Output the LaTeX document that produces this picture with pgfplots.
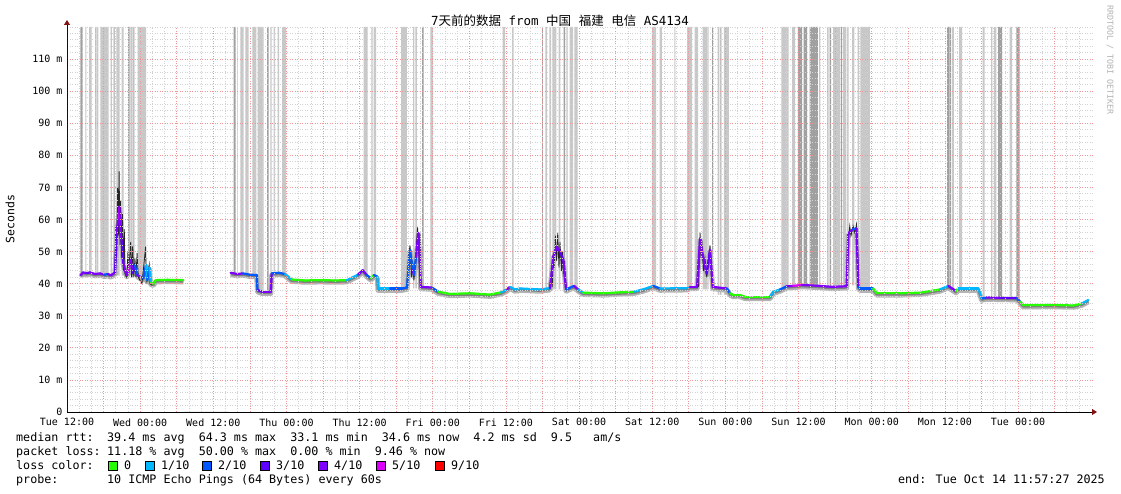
\documentclass[border=0pt]{standalone}
\usepackage{fontspec}
\setmainfont{DejaVu Sans Mono}
\newfontfamily\cjk{Noto Sans CJK SC}
\usepackage{pgfplots}
\usepackage{pgfplotstable}
\pgfplotsset{compat=1.18}
\usetikzlibrary{arrows.meta}

\definecolor{mgrid}{RGB}{240,150,150}
\definecolor{sgrid}{RGB}{210,210,210}
\definecolor{barlight}{RGB}{200,200,200}
\definecolor{bardark}{RGB}{160,160,160}
\definecolor{arrowred}{RGB}{130,20,20}
\definecolor{lc0}{RGB}{38,255,0}
\definecolor{lc1}{RGB}{0,184,255}
\definecolor{lc2}{RGB}{0,89,255}
\definecolor{lc3}{RGB}{94,0,255}
\definecolor{lc4}{RGB}{126,0,255}
\definecolor{lc5}{RGB}{221,0,255}
\definecolor{lc9}{RGB}{255,0,0}

\pgfplotsset{colormap={loss}{rgb255=(38,255,0) rgb255=(0,184,255) rgb255=(0,89,255) rgb255=(94,0,255) rgb255=(126,0,255) rgb255=(221,0,255) rgb255=(255,0,0)}}

% median rtt, hours since Tue 12:00; c = loss colour index
\pgfplotstableread{
h ms c
2.25 42.7 4
2.62 43.5 4
3.20 43.3 3
3.77 43.5 4
4.60 43.0 4
5.41 43.2 4
6.10 42.8 2
6.73 43.0 4
7.20 42.6 4
7.87 43.5 3
8.15 55.7 4
8.42 60.4 5
8.58 64.0 4
8.69 58.9 4
8.97 53.0 3
9.24 46.4 4
9.51 44.2 4
9.79 42.7 4
10.06 43.8 5
10.45 47.4 4
10.78 43.4 3
11.15 45.8 2
11.53 42.7 4
11.98 42.2 2
12.52 41.7 2
12.96 45.8 1
13.17 41.1 2
13.50 45.1 1
13.73 40.3 0
14.16 40.0 0
14.55 41.1 0
16.50 41.2 0
19.08 41.1 0
}\medA

\pgfplotstableread{
h ms c
26.85 43.4 4
27.90 43.0 4
28.87 43.2 2
30.00 42.8 2
31.12 42.7 2
31.25 38.0 3
32.00 37.5 4
33.42 37.5 4
33.58 43.2 2
34.80 43.4 2
35.76 43.0 1
36.86 41.3 0
39.00 41.0 0
41.50 41.1 0
44.00 41.0 0
45.88 41.1 1
47.74 42.8 4
48.51 44.2 4
49.16 42.7 2
49.82 41.7 0
50.36 42.7 2
50.90 42.2 1
51.02 38.5 1
52.99 38.5 2
55.00 38.5 2
55.77 38.8 2
56.27 50.5 2
56.71 44.2 4
56.92 42.7 2
57.25 48.3 4
57.63 55.7 4
57.79 51.0 4
58.02 39.0 4
59.83 38.8 2
60.91 37.5 0
62.83 36.8 0
66.11 37.0 0
69.39 36.6 0
71.20 37.3 1
72.13 38.2 4
72.67 39.0 1
73.49 38.2 1
74.31 38.5 1
77.59 38.2 1
79.23 38.6 4
79.77 48.4 4
80.33 51.5 4
80.87 50.0 3
81.41 47.4 4
81.86 38.2 2
83.17 39.3 4
83.87 38.2 1
84.65 37.2 0
88.00 37.0 0
90.72 37.3 0
93.00 37.5 1
94.49 38.2 1
96.18 39.3 2
97.28 38.5 1
101.71 38.6 1
102.20 39.0 4
103.35 39.0 4
103.84 54.0 4
104.12 50.5 4
104.66 45.3 4
104.94 43.2 3
105.48 50.5 4
105.76 43.2 4
105.92 39.0 4
108.27 38.5 2
108.76 37.0 0
109.25 36.5 0
110.40 36.5 0
111.22 35.9 0
115.32 35.9 1
115.86 37.5 1
116.96 38.2 2
118.06 39.2 4
119.09 39.3 5
120.52 39.6 4
123.52 39.3 4
125.50 39.0 4
127.90 39.2 4
128.17 55.7 4
128.94 57.0 2
129.50 57.2 4
129.81 39.0 2
130.09 38.5 2
132.22 38.5 0
132.83 37.0 0
136.65 37.0 0
140.00 37.2 0
143.21 38.2 1
144.57 39.3 4
145.83 37.7 0
146.21 38.5 1
149.49 38.5 1
150.05 35.4 2
150.87 35.7 4
153.05 35.6 3
155.79 35.5 2
156.33 34.4 0
156.87 33.3 0
161.25 33.4 0
165.07 33.2 0
166.45 33.8 1
167.54 34.9 1
}\medB

% lower edge of the loss bars
\pgfplotstableread{
h b
0 42.5
13.6 40
19.1 0
26.5 42.5
31.15 37.5
33.5 42.5
36 41
46 42
51 38.5
60 37
72 38.2
82 38.5
84 37
94 38.2
106 36.5
111 36
116 38.8
128 39.5
129.8 38.3
132.5 37
143 38.3
149.7 35.3
156.2 33.2
168.3 33.2
}\base

\begin{document}
\begin{tikzpicture}
\useasboundingbox (0,0) rectangle (1121pt,494pt);
\begin{axis}[
  at={(67pt,82pt)}, anchor=south west,
  scale only axis, width=1026pt, height=385pt,
  xmin=0, xmax=168.3, ymin=0, ymax=120,
  axis lines=left, axis on top,
  x axis line style={black, line width=0.8pt, -{Triangle[length=5pt,width=6pt,color=arrowred]}, shorten >=-4pt},
  y axis line style={black!70!arrowred, line width=0.8pt, -{Triangle[length=5pt,width=6pt,color=arrowred]}, shorten >=-7pt},
  xtick={0,6,...,162},
  xticklabels={Tue 12:00,,Wed 00:00,,Wed 12:00,,Thu 00:00,,Thu 12:00,,Fri 00:00,,Fri 12:00,,Sat 00:00,,Sat 12:00,,Sun 00:00,,Sun 12:00,,Mon 00:00,,Mon 12:00,,Tue 00:00,},
  minor xtick={0,2,...,166},
  ytick={0,10,...,110},
  yticklabels={0,10 m,20 m,30 m,40 m,50 m,60 m,70 m,80 m,90 m,100 m,110 m},
  minor ytick={0,2,...,120},
  major tick length=0pt, minor tick length=0pt,
  grid=both,
  major grid style={mgrid, line width=0.7pt, dash pattern=on 1pt off 1.5pt},
  minor grid style={sgrid, line width=0.7pt, dash pattern=on 1pt off 1.5pt},
  tick label style={font=\fontsize{10}{12}\selectfont},
  xticklabel style={yshift=-3pt},
  yticklabel style={xshift=-1pt},
]
% loss bars
\addplot[const plot, fill=barlight, draw=none] coordinates {
(3.00,120) (3.17,0) (3.61,120) (4.05,0) (4.92,120) (5.13,0) (5.46,120) (6.84,0)
(7.17,120) (7.38,0) (8.09,120) (8.65,0) (8.97,120) (9.30,0) (10.38,120) (10.78,0)
(11.60,120) (12.96,0) (27.89,120) (28.00,0) (28.43,120) (28.99,0) (29.25,120) (29.81,0)
(30.40,120) (31.05,0) (31.28,120) (32.27,0) (33.35,120) (33.58,0) (33.91,120) (34.12,0)
(34.56,120) (34.78,0) (35.27,120) (35.93,0) (48.67,120) (49.33,0) (49.92,120) (50.15,0)
(50.31,120) (50.69,0) (54.79,120) (55.77,0) (56.76,120) (56.97,0) (57.14,120) (57.41,0)
(59.60,120) (60.04,0) (71.47,120) (71.85,0) (73.00,120) (73.28,0) (78.46,120) (78.74,0)
(79.12,120) (79.40,0) (79.61,120) (80.27,0) (80.66,120) (80.92,0) (81.91,120) (82.14,0)
(82.46,120) (83.01,0) (83.22,120) (83.78,0) (95.96,120) (96.62,0) (97.23,120) (97.60,0)
(99.62,120) (99.79,0) (101.71,120) (102.53,0) (102.97,120) (103.51,0) (104.28,120) (104.99,0)
(106.74,120) (107.00,0) (107.73,120) (108.55,0) (117.17,120) (118.39,0) (118.93,120) (119.42,0)
(123.36,120) (123.57,0) (124.67,120) (124.95,0) (125.66,120) (126.85,0) (127.30,120) (127.84,0)
(127.95,120) (128.23,0) (128.77,120) (129.15,0) (129.71,120) (129.92,0) (130.14,120) (131.68,0)
(145.18,120) (145.46,0) (146.33,120) (146.82,0) (150.21,120) (150.54,0) (151.57,120) (151.79,0)
(152.02,120) (152.44,0) (154.64,120) (155.02,0)
} \closedcycle;
\addplot[const plot, fill=bardark, draw=none] coordinates {
(2.18,120) (2.58,0) (4.64,120) (4.81,0) (7.66,120) (7.82,0) (10.01,120) (10.29,0)
(10.88,120) (11.04,0) (27.35,120) (27.67,0) (32.81,120) (33.09,0) (58.24,120) (58.51,0)
(77.92,120) (78.08,0) (81.48,120) (81.69,0) (105.10,120) (105.20,0) (105.81,120) (105.97,0)
(107.17,120) (107.33,0) (119.87,120) (120.57,0) (120.85,120) (121.39,0) (121.83,120) (123.15,0)
(125.11,120) (125.33,0) (126.97,120) (127.13,0) (144.36,120) (144.64,0) (144.73,120) (145.01,0)
(152.72,120) (153.38,0) (155.72,120) (156.28,0)
} \closedcycle;
\addplot[const plot, fill=white, draw=none] table[x=h, y=b] {\base} \closedcycle;
% smoke
\addplot[barlight!90!black, line width=5pt, line join=round, yshift=-1.8pt] table[x=h, y=ms] {\medA};
\addplot[barlight!90!black, line width=5pt, line join=round, yshift=-1.8pt] table[x=h, y=ms] {\medB};
\addplot[black!50, line width=2.5pt, line join=round, yshift=-1.2pt] table[x=h, y=ms] {\medA};
\addplot[black!50, line width=2.5pt, line join=round, yshift=-1.2pt] table[x=h, y=ms] {\medB};
\addplot[black!85, line width=0.8pt, unbounded coords=jump] coordinates {
(7.87,43) (8.0,58) (8.15,50) (8.3,70) (8.42,55) (8.55,75) (8.69,52) (8.8,66) (8.97,48)
(9.1,62) (9.24,44) (9.4,57) (9.51,43) (9.8,42) (10.0,50) (10.1,43) (10.45,53) (10.6,42)
(10.78,52) (10.95,42) (11.15,48) (11.3,42) (11.5,49.5) (11.7,42) (11.98,41) (12.3,40)
(12.9,51.5) (13.0,41) (13.5,46) (13.6,40) (14.0,39.5) (14.1,nan)
(55.77,39) (56.0,48) (56.27,52) (56.5,42) (56.71,47) (56.9,41) (57.25,50) (57.5,57.5)
(57.63,54) (57.79,45) (57.9,56) (58.02,39) (58.1,nan)
(79.6,39) (79.77,49) (79.9,45) (80.1,55) (80.33,47) (80.5,56) (80.7,45) (80.87,53)
(81.1,44) (81.3,50) (81.41,43) (81.6,47) (81.86,38) (81.9,nan)
(103.6,39) (103.84,56) (104.0,48) (104.12,54) (104.4,44) (104.66,48) (104.94,42)
(105.2,47) (105.48,52) (105.76,42) (105.92,39) (106.0,nan)
(127.9,39) (128.17,54) (128.4,58) (128.6,55) (128.94,58) (129.2,56) (129.5,58.5)
(129.7,50) (129.81,39)
};
% median coloured by loss
\addplot[mesh, shader=flat corner, line width=2.2pt, line cap=round, colormap name=loss, colormap access=direct, point meta=explicit] table[x=h, y=ms, meta=c] {\medA};
\addplot[mesh, shader=flat corner, line width=2.2pt, line cap=round, colormap name=loss, colormap access=direct, point meta=explicit] table[x=h, y=ms, meta=c] {\medB};
\end{axis}

\node[font=\fontsize{12.5}{14}\selectfont] at (560pt,473pt)
  {7{\cjk 天前的数据}~from~{\cjk 中国}~{\cjk 福建}~{\cjk 电信}~AS4134};
\node[rotate=90, font=\fontsize{11.5}{13}\selectfont] at (10pt,275pt) {Seconds};
\node[rotate=-90, text=black!30, font=\fontsize{8.3}{10}\selectfont] at (1110pt,434pt) {RRDTOOL / TOBI OETIKER};

\begin{scope}[every node/.style={anchor=base west, inner sep=0pt, font=\fontsize{11.7}{13}\selectfont}]
\node at (16pt,52pt) {median rtt:};
\node at (107pt,52pt) {39.4 ms avg~~64.3 ms max~~33.1 ms min~~34.6 ms now~~4.2 ms sd~~9.5~~~am/s};
\node at (16pt,38pt) {packet loss:};
\node at (107pt,38pt) {11.18 \% avg~~50.00 \% max~~0.00 \% min~~9.46 \% now};
\node at (16pt,24pt) {loss color:};
\node at (16pt,10pt) {probe:};
\node at (107pt,10pt) {10 ICMP Echo Pings (64 Bytes) every 60s};
\node[anchor=base east] at (1105pt,10pt) {end: Tue Oct 14 11:57:27 2025};
\foreach \xx/\cc/\tt in {108/lc0/0, 145/lc1/1\slash 10, 202/lc2/2\slash 10, 260/lc3/3\slash 10, 318/lc4/4\slash 10, 376/lc5/5\slash 10, 435/lc9/9\slash 10} {
  \draw[fill=\cc, draw=black, line width=0.8pt] (\xx pt,23.5pt) rectangle ++(9pt,9pt);
  \node at (\xx pt+16pt,24pt) {\tt};
}
\end{scope}
\end{tikzpicture}
\end{document}
